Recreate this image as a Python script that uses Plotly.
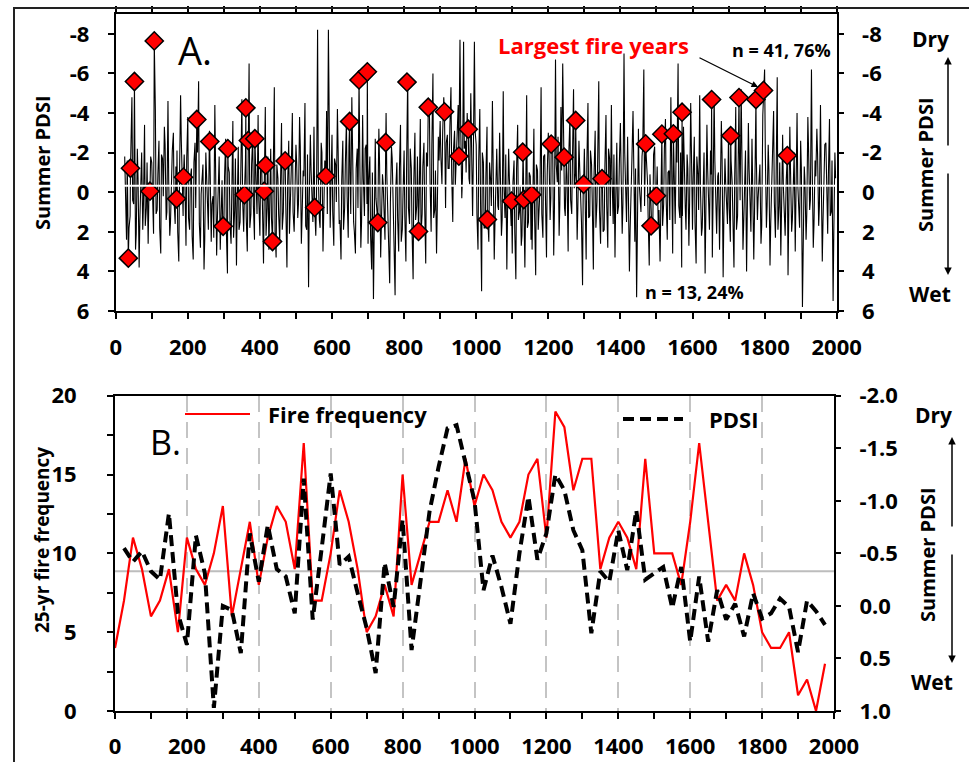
import plotly.graph_objects as go

W, H = 969, 762

# ---------------- Panel A: summer PDSI, sampled every 5 years ----------------
pdsi_start = 25
pdsi_step = 5
pdsi_annual = [
    # 25-95
    -1.8, 2.4, -3.9, 1.2, -4.8, 0.6, 2.9, -2.2, 3.8, -1.1, 1.9, -3.4, 0.8, 2.6, -2.9,
    # 100-195
    -1.5, 2.1, -4.2, 0.9, -2.6, 3.1, -1.7, -3.3, 1.4, -4.6, 2.2, -0.8, -3.0, 1.6, -2.1, 3.5, -4.9, 0.4, -1.9, 2.7,
    # 200-295
    -3.8, 1.9, -1.2, 3.4, -2.5, 0.7, -5.6, 2.8, -0.9, 3.9, -2.0, 1.3, -3.1, 2.5, 0.2, -4.4, 3.2, -1.4, 2.9, -0.6,
    # 300-395
    1.8, -2.7, 4.1, -1.0, 2.6, -3.6, 0.9, 3.7, -2.3, 1.5, -4.7, 2.0, -1.6, 3.0, -6.5, 1.1, -2.8, 2.4, -0.5, -3.9,
    # 400-495
    2.2, -1.3, 3.6, -4.3, 0.8, 2.9, -2.2, 1.7, -5.3, 3.3, -0.7, 2.5, -3.5, 1.0, -1.9, 3.8, -2.6, 0.5, -4.0, 2.0,
    # 500-595
    -2.4, 1.3, -3.8, 2.6, -1.1, -4.5, 1.9, 4.8, -2.9, 0.6, -3.3, 2.2, -8.2, 1.4, -2.5, 3.0, -1.6, -4.1, -8.2, 1.8,
    # 600-695
    -2.9, 2.7, -1.4, -4.2, 1.6, 3.4, -2.6, 0.8, -3.6, 2.3, -1.0, -4.8, 1.5, 3.1, -2.2, -0.4, 2.8, -3.9, 1.2, -2.4,
    # 700-795
    2.6, -1.8, 3.9, 5.4, -2.7, 1.4, -3.2, 3.3, -0.9, 2.1, -4.0, 1.7, 4.6, -2.3, 0.9, 5.2, -1.5, 3.0, -3.4, 1.9,
    # 800-895
    -2.1, 3.5, -5.9, 1.6, -1.2, 4.4, -3.0, 0.7, 2.4, -3.7, 1.1, -2.5, 3.6, -1.3, -4.6, 2.0, -6.0, 0.9, 3.1, -2.8,
    # 900-995
    -3.6, -0.4, -4.8, 0.8, -2.9, -1.2, -5.3, 1.5, -3.1, -2.0, -4.4, -7.7, 0.3, -7.6, -2.6, -4.0, -0.7, -5.0, 1.2, -7.6,
    # 1000-1095
    -2.4, 2.9, -4.2, 5.0, -1.5, 1.8, -3.3, 2.5, -0.6, -4.6, 3.4, -1.9, 0.7, -3.0, 2.2, -5.1, 1.3, 3.9, -2.2, 0.4,
    # 1100-1195
    3.1, -1.6, 4.4, -3.4, 1.0, 2.7, -2.3, 3.8, -4.9, 1.5, -0.8, 2.9, -3.2, 4.2, -1.1, 0.6, -5.3, 2.3, -1.9, 3.3,
    # 1200-1295
    -3.0, 1.4, -2.1, 3.2, -6.7, -0.5, 2.2, -4.3, -6.5, 0.8, -1.7, 3.0, -3.8, 1.1, -5.2, -0.9, 2.4, -2.6, 0.3, 4.7,
    # 1300-1395
    -2.2, 3.4, -4.5, 1.2, -1.4, 3.9, -3.1, 0.5, -5.6, 2.6, -0.8, 1.9, -3.9, 2.8, -1.7, -4.4, 1.6, 3.3, -2.5, 0.7,
    # 1400-1495
    -3.5, 2.1, -7.0, 1.4, -2.8, 4.0, -1.2, -4.1, 2.5, 5.3, -3.2, 0.9, -1.8, -6.2, 2.0, -0.6, 3.7, -3.6, 1.5, -2.3,
    # 1500-1595
    -4.2, 1.7, 3.5, -2.5, 0.6, -3.7, 2.4, -1.1, -4.8, 3.1, -0.3, -2.6, -6.5, 1.3, 3.8, -3.3, 0.8, -1.9, 2.7, -4.5,
    # 1600-1695
    1.9, -2.8, 3.6, -0.9, -4.9, 2.2, -1.5, 4.1, -3.4, 0.6, -2.1, 3.3, -5.0, 1.6, -0.8, 2.9, -3.6, 4.3, -1.7, 0.4,
    # 1700-1795
    -3.1, 2.5, -0.5, 3.8, -4.3, 1.2, -2.2, -5.2, 2.9, -1.3, 4.0, -3.5, 0.9, -2.7, 3.4, -4.6, 1.4, -1.0, 2.6, -3.9,
    # 1800-1895
    -6.2, 1.8, -2.4, 3.7, -1.1, -4.1, 2.3, -5.8, 0.7, 3.2, -2.9, 1.5, -0.6, 4.2, -3.3, 2.0, -1.8, 3.0, -4.0, 1.1,
    # 1900-1995
    -2.6, 5.8, -1.3, 2.4, -3.8, 0.9, -6.2, 2.8, -1.6, -3.2, 1.7, -4.4, 3.5, -0.7, -2.5, 2.1, -3.7, 1.0, 5.5, -2.0,
]

# in-between years (27, 32, 37, ...)
pdsi_mid_start = 27
pdsi_mid = [
    # 27-97
    0.9, -1.6, 1.8, -2.3, 0.4, -1.2, 2.1, -0.7, 1.4, -2.0, 0.6, 1.7, -1.5, 0.3, -1.8,
    # 102-197
    0.7, -2.2, 1.1, -0.9, 1.8, -1.9, 0.2, -2.4, 1.0, -0.6, 1.5, -2.1, 0.5, -1.3, 2.0, -0.8, -2.6, 1.2, -0.4, -1.7,
    # 202-297
    1.3, -0.7, 2.2, -1.5, 0.8, -2.0, 1.6, 0.1, -1.4, 2.4, -0.5, 1.9, -1.1, 0.6, 2.3, -0.9, 1.4, -1.8, 0.9, 1.7,
    # 302-397
    -0.8, 2.0, -1.3, 1.5, -0.4, 2.3, -1.7, 0.8, 1.9, -1.0, 0.3, -2.2, 1.2, -0.6, 1.8, -1.4, 0.7, -2.0, 1.1, 0.4,
    # 402-497
    -1.2, 1.6, -0.3, 2.2, -1.8, 0.5, 1.3, -0.9, 2.0, -1.4, 1.1, -0.2, 1.9, -1.6, 0.8, -0.5, 2.1, -1.1, 1.0, -0.7,
    # 502-597
    -1.5, 0.6, -2.3, 1.2, -0.8, 1.7, -1.9, 0.3, -1.1, 1.5, -2.4, 0.4, -0.9, 1.8, -2.0, 0.7, -1.3, 1.1, -2.6, -0.2,
    # 602-697
    1.0, -1.7, 0.5, -2.1, 1.4, -0.6, 1.9, -1.4, 0.2, -2.3, 1.1, -0.5, 2.0, -1.2, 0.8, -1.9, 1.5, -0.7, -2.2, 0.6,
    # 702-797
    -0.6, 2.2, -1.0, 1.6, 0.3, 2.6, -1.4, 1.2, -0.4, 2.4, -0.9, 1.9, 0.5, -1.7, 2.1, -0.2, 1.3, -1.1, 2.5, 0.1,
    # 802-897
    1.2, -1.5, 0.8, -2.2, 1.9, -0.6, 1.4, -1.8, 0.2, 2.1, -1.3, 0.7, -2.0, 1.0, -0.5, -2.4, 1.3, -1.1, 0.9, -1.6,
    # 902-997
    -1.8, -3.0, -0.6, -2.5, -1.2, -3.3, -0.9, -2.1, -0.3, -2.8, -1.5, -3.4, -0.8, -2.2, -1.0, -2.9, -0.4, -2.6, -1.7, -3.1,
    # 1002-1097
    1.1, -1.6, 0.4, -2.0, 1.8, -0.9, 1.3, -1.5, 0.7, -0.4, 1.6, -2.2, 0.9, -1.1, 1.4, -0.3, -1.9, 1.0, -0.7, 1.7,
    # 1102-1197
    -0.5, 2.0, -1.2, 1.4, -0.3, 2.2, -1.6, 0.9, 1.8, -1.0, 2.4, -0.7, 1.2, -1.4, 1.9, -0.2, 1.1, -1.8, 0.8, -0.9,
    # 1202-1297
    -1.9, 0.3, -2.5, 0.9, -1.4, -2.8, 0.6, -1.1, -2.3, 1.2, -0.8, -2.0, 0.4, -1.6, -0.2, -2.6, 0.8, -1.3, 1.5, -0.6,
    # 1302-1397
    0.8, -1.5, 1.3, -2.1, 0.5, -1.0, 1.8, -1.7, 0.9, -0.4, 2.0, -1.3, 0.6, -2.2, 1.2, -0.7, -1.9, 0.4, 1.1, -1.4,
    # 1402-1497
    -1.0, 0.6, -2.0, 1.5, -0.8, 1.9, -1.7, 0.3, -1.2, 2.2, -0.5, 1.0, -2.3, 0.7, -1.5, 1.3, -0.9, 1.8, -1.9, 0.5,
    # 1502-1597
    -1.3, 0.9, -0.6, 1.7, -2.2, 0.4, -1.0, 1.4, -1.8, 0.2, 1.6, -1.5, 0.7, -2.0, 1.2, -0.8, 1.9, -1.2, 0.5, -2.1,
    # 1602-1697
    -0.7, 1.5, -1.8, 0.9, -0.3, 1.8, -2.0, 0.6, -1.2, 1.9, -0.9, 0.4, -1.6, 2.1, -1.0, 0.7, -1.9, 1.3, -0.5, 1.6,
    # 1702-1797
    0.8, -1.6, 1.3, -0.7, 1.9, -1.9, 0.4, -0.9, 1.6, -2.1, 0.6, -1.2, 2.0, -0.4, 1.1, -1.8, 0.3, -1.4, 1.7, -0.6,
    # 1802-1897
    -2.0, 0.7, -1.1, 1.6, -2.3, 0.5, -0.8, 1.9, -1.5, 0.9, -0.3, 2.2, -1.7, 0.6, -1.0, 1.4, -2.0, 0.8, -0.4, 1.8,
    # 1902-1997
    -1.2, 1.9, -0.5, 1.1, -2.1, 0.4, -1.4, 1.6, -0.8, -1.9, 0.7, -1.1, 1.5, -2.4, 0.3, -0.9, 1.2, -1.6, 2.0, -0.7,
]

# Largest fire years and their summer PDSI
fire_years = [35, 41, 52, 95, 107, 169, 188, 225, 261, 298, 311, 357, 361, 368, 386,
              412, 416, 435, 470, 552, 583, 649, 675, 698, 727, 749, 808, 840, 867,
              912, 952, 978, 1031, 1098, 1129, 1132, 1154, 1208, 1244, 1276, 1298,
              1349, 1470, 1485, 1500, 1515, 1547, 1571, 1653, 1706, 1729, 1776, 1797, 1863]
fire_pdsi = [3.33, -1.21, -5.59, -0.05, -7.64, 0.33, -0.76, -3.67, -2.56, 1.72, -2.2, 0.13,
             -4.26, -2.61, -2.7, -0.05, -1.36, 2.49, -1.58, 0.77, -0.81, -3.57, -5.67, -6.08,
             1.53, -2.51, -5.56, 1.98, -4.29, -4.06, -1.82, -3.18, 1.38, 0.45, -2.02, 0.37,
             0.13, -2.43, -1.77, -3.62, -0.4, -0.68, -2.44, 1.7, 0.18, -2.93, -2.95, -4.04,
             -4.68, -2.85, -4.78, -4.68, -5.14, -1.85]

pdsi_mean = -0.33

a_ytick_vals = [-8, -6, -4, -2, 0, 2, 4, 6]
a_ytick_text = ["-8", "-6", "-4", "-2", "0", "2", "4", "6"]

# ---------------- Panel B: 25-yr fire frequency and PDSI ----------------
ff_years = list(range(0, 2000, 25))
fire_freq = [4, 7, 11, 9, 6, 7, 9, 5, 11, 9, 8, 10, 13, 6, 9, 12, 8, 11, 13, 12,
             9, 17, 7, 7, 10, 14, 12, 9, 5, 6, 8, 6, 15, 8, 10, 12, 12, 14, 12, 16,
             13, 15, 14, 12, 11, 12, 15, 16, 11, 19, 18, 14, 16, 16, 9, 11, 12, 11, 9, 16,
             10, 10, 10, 8, 12, 17, 12, 7, 8, 7, 10, 8, 5, 4, 4, 5, 1, 2, 0, 3]

pdsi25_years = list(range(25, 2000, 25))
pdsi25 = [-0.55, -0.42, -0.52, -0.33, -0.25, -0.88, 0.07, 0.37, -0.67, -0.31, 0.97, 0.0,
          0.04, 0.45, -0.69, -0.23, -0.77, -0.35, -0.28, 0.07, -1.21, 0.13, -0.55, -1.26,
          -0.39, -0.47, -0.12, 0.21, 0.64, -0.41, 0.01, -0.82, 0.42, -0.25, -0.9, -1.32,
          -1.69, -1.72, -1.37, -1.0, -0.15, -0.48, -0.18, 0.17, -0.5, -1.04, -0.44, -0.69,
          -1.25, -1.1, -0.72, -0.53, 0.26, -0.33, -0.23, -0.72, -0.34, -0.91, -0.25, -0.31,
          -0.37, 0.02, -0.37, 0.34, -0.28, 0.34, -0.15, 0.13, -0.02, 0.29, -0.12, 0.12,
          0.07, -0.07, 0.01, 0.44, -0.05, 0.05, 0.18]

b_left_vals = [0, 5, 10, 15, 20]
b_right_vals = [-2.0, -1.5, -1.0, -0.5, 0.0, 0.5, 1.0]
b_right_text = ["-2.0", "-1.5", "-1.0", "-0.5", "0.0", "0.5", "1.0"]

x_tick_vals = list(range(0, 2001, 200))

# merge the sampled series, the in-between years and the fire-year values
series = {pdsi_start + i * pdsi_step: v for i, v in enumerate(pdsi_annual)}
series.update({pdsi_mid_start + i * pdsi_step: v for i, v in enumerate(pdsi_mid)})
for yr, v in zip(fire_years, fire_pdsi):
    series[yr] = v
line_years = sorted(series)
line_vals = [series[y] for y in line_years]


def px(x):
    """page x (pixels) -> paper fraction"""
    return x / W


def py(y):
    """page y (pixels, from top) -> paper fraction"""
    return 1 - y / H


FONT = "Open Sans"
TICKFONT = dict(family=FONT, size=22, color="black", weight="bold")

fig = go.Figure()

fig.add_trace(go.Scatter(x=line_years, y=line_vals, mode="lines",
                         line=dict(color="black", width=1.1),
                         xaxis="x", yaxis="y", hoverinfo="skip"))
fig.add_trace(go.Scatter(x=fire_years, y=fire_pdsi, mode="markers",
                         marker=dict(symbol="diamond", size=14, color="#ff0000",
                                     line=dict(color="black", width=1.5)),
                         xaxis="x", yaxis="y"))
fig.add_trace(go.Scatter(x=[None], y=[None], xaxis="x", yaxis="y3", hoverinfo="skip"))

fig.add_trace(go.Scatter(x=ff_years, y=fire_freq, mode="lines",
                         line=dict(color="#ff0000", width=2.2),
                         xaxis="x2", yaxis="y2"))
fig.add_trace(go.Scatter(x=pdsi25_years, y=pdsi25, mode="lines",
                         line=dict(color="black", width=4, dash="11px,6px"),
                         xaxis="x2", yaxis="y4"))

axis_common = dict(showline=True, linecolor="black", linewidth=2, ticks="outside",
                   ticklen=6, tickwidth=1.5, tickcolor="black", showgrid=False,
                   zeroline=False, tickfont=TICKFONT, automargin=False)

a_dom_x = [px(115.7), px(836.7)]
b_dom_x = [px(115), px(834)]
a_dom_y = [py(311), py(14)]
b_dom_y = [py(711), py(395.7)]

fig.update_layout(
    template="none",
    width=W, height=H, margin=dict(l=0, r=0, t=0, b=0, pad=0, autoexpand=False),
    paper_bgcolor="white", plot_bgcolor="white", showlegend=False,
    font=dict(family=FONT, color="black"),
    xaxis=dict(domain=a_dom_x, anchor="y", range=[0, 2000], tickvals=x_tick_vals,
               mirror="ticks", ticklabelstandoff=10,
               minor=dict(dtick=100, ticks="outside", ticklen=6, tickwidth=1.5,
                          tickcolor="black", showgrid=False),
               **axis_common),
    yaxis=dict(domain=a_dom_y, anchor="x", range=[6, -9], tickvals=a_ytick_vals,
               ticktext=a_ytick_text, mirror=True, ticklabelstandoff=14, **axis_common),
    yaxis3=dict(overlaying="y", anchor="x", side="right", range=[6, -9],
                tickvals=a_ytick_vals, ticktext=a_ytick_text, ticklabelstandoff=14,
                **{**axis_common, "showline": False}),
    xaxis2=dict(domain=b_dom_x, anchor="y2", range=[0, 2000], tickvals=x_tick_vals,
                mirror=True, ticklabelstandoff=9,
                minor=dict(dtick=100, ticks="outside", ticklen=6, tickwidth=1.5,
                           tickcolor="black", showgrid=False),
                **{**axis_common, "showgrid": True},
                gridcolor="#c4c4c4", gridwidth=2, griddash="16px,10px"),
    yaxis2=dict(domain=b_dom_y, anchor="x2", range=[0, 20], tickvals=b_left_vals,
                mirror=True, ticklabelstandoff=26,
                minor=dict(dtick=2.5, ticks="outside", ticklen=6, tickwidth=1.5,
                           tickcolor="black", showgrid=False),
                **axis_common),
    yaxis4=dict(overlaying="y2", anchor="x2", side="right", range=[1.0, -2.0],
                tickvals=b_right_vals, ticktext=b_right_text, ticklabelstandoff=14,
                **{**axis_common, "showline": False}),
)

shapes = [
    # outer frame
    dict(type="rect", xref="paper", yref="paper", x0=px(14), x1=px(990), y0=py(790),
         y1=py(8), line=dict(color="#222", width=2), fillcolor="rgba(0,0,0,0)"),
    # long-term mean PDSI, panel A
    dict(type="line", xref="x", yref="y", x0=20, x1=2000, y0=pdsi_mean, y1=pdsi_mean,
         line=dict(color="white", width=2), layer="above"),
    # long-term mean PDSI, panel B
    dict(type="line", xref="x2", yref="y4", x0=0, x1=2000, y0=pdsi_mean, y1=pdsi_mean,
         line=dict(color="#bdbdbd", width=2), layer="below"),
    # legend samples
    dict(type="line", xref="paper", yref="paper", x0=px(185), x1=px(250), y0=py(414),
         y1=py(414), line=dict(color="#ff0000", width=2.2)),
    dict(type="line", xref="paper", yref="paper", x0=px(623), x1=px(683), y0=py(419),
         y1=py(419), line=dict(color="black", width=4, dash="11px,6px")),
]
fig.update_layout(shapes=shapes)


def text(x, y, s, size=20, color="black", weight="bold", angle=0, xanchor="center"):
    return dict(xref="paper", yref="paper", x=px(x), y=py(y), text=s, showarrow=False,
                xanchor=xanchor, yanchor="middle", textangle=angle,
                font=dict(family=FONT, size=size, color=color, weight=weight))


def arrow(x, y_head, y_tail, width=1.5):
    return dict(xref="paper", yref="paper", x=px(x), y=py(y_head), ax=0,
                ay=y_tail - y_head, text="", showarrow=True, arrowhead=2,
                arrowsize=1, arrowwidth=width, arrowcolor="black")


ann = [
    text(195, 50, "A.", size=38, weight="normal"),
    text(593, 45, "Largest fire years", size=22, color="#ff0000"),
    text(781, 50, "n = 41, 76%", size=18),
    text(694, 292, "n = 13, 24%", size=18),
    text(42, 163, "Summer PDSI", size=20, angle=-90),
    text(925, 165, "Summer PDSI", size=20, angle=-90),
    text(930, 39, "Dry", size=21),
    text(930, 294, "Wet", size=21),
    arrow(948, 57, 147),
    arrow(948, 275, 172),
    dict(xref="paper", yref="paper", x=px(758), y=py(87), ax=698 - 758, ay=57 - 87,
         text="", showarrow=True, arrowhead=2, arrowsize=1, arrowwidth=1.3,
         arrowcolor="black"),
    text(165, 442, "B.", size=34, weight="normal"),
    text(42, 540, "25-yr fire frequency", size=19, angle=-90),
    text(927, 555, "Summer PDSI", size=20, angle=-90),
    text(933, 415, "Dry", size=21),
    text(932, 682, "Wet", size=21),
    arrow(952, 437, 528),
    arrow(952, 663, 553),
    text(266, 414, "Fire frequency", size=22, xanchor="left"),
    text(707, 419, "PDSI", size=22, xanchor="left"),
]
fig.update_layout(annotations=ann)

fig.write_html("out.html")
